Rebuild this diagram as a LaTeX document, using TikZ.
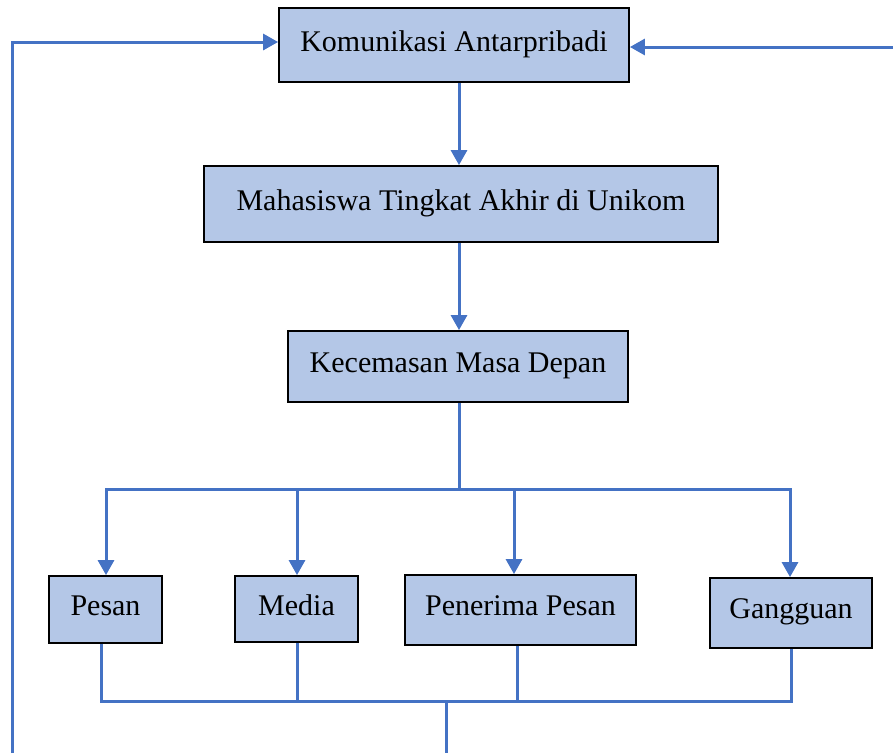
\documentclass[tikz,border=0pt]{standalone}
\usepackage{fontspec}
\setmainfont{Liberation Serif}
\usetikzlibrary{arrows.meta}
\definecolor{boxfill}{HTML}{B4C7E7}
\definecolor{lineblue}{HTML}{4472C4}
\tikzset{
  box/.style={draw=black, line width=1.8pt, fill=boxfill, inner sep=0pt, font=\fontsize{30}{34}\selectfont},
  conn/.style={draw=lineblue, line width=3pt},
  arr/.style={conn, -{Triangle[length=15pt,width=16pt]}}
}
\newcommand{\up}[1]{\raisebox{8pt}{#1}}
\begin{document}
\begin{tikzpicture}[x=1pt,y=-1pt]
\useasboundingbox (0,0) rectangle (893,753);
\node[box, minimum width=350pt, minimum height=74pt] (K) at (454,45) {\up{Komunikasi Antarpribadi}};
\node[box, minimum width=514pt, minimum height=76pt] (M) at (461,204) {\up{Mahasiswa Tingkat Akhir di Unikom}};
\node[box, minimum width=340pt, minimum height=71pt] (C) at (458,366.5) {\up{Kecemasan Masa Depan}};
\node[box, minimum width=113pt, minimum height=67pt] (P) at (105.5,609.5) {\up{Pesan}};
\node[box, minimum width=123pt, minimum height=66pt] (Me) at (296.5,609) {\up{Media}};
\node[box, minimum width=231pt, minimum height=70pt] (PP) at (520.5,610) {\up{Penerima Pesan}};
\node[box, minimum width=162pt, minimum height=70pt] (G) at (791,613) {\up{Gangguan}};

% top loop arrows
\coordinate (LB) at (12,753);
\coordinate (RR) at (893,47);
\draw[arr] (LB) -- (LB |- 0,42) -- (K.west |- 0,42);
\draw[arr] (RR) -- (K.east |- RR);

% main vertical chain
\coordinate (x1) at (459,0);
\draw[arr] (K.south -| x1) -- (M.north -| x1);
\draw[arr] (M.south -| x1) -- (C.north -| x1);

% distribution bus
\coordinate (bus) at (459,489);
\draw[conn] (C.south -| x1) -- (bus);
\draw[arr] (bus) -- (106,489) -- (P.north -| 106,0);
\draw[arr] (297,489) -- (Me.north -| 297,0);
\draw[arr] (514,489) -- (PP.north -| 514,0);
\draw[arr] (bus) -- (790,489) -- (G.north -| 790,0);

% collection bus
\coordinate (cb) at (446,701);
\coordinate (cbot) at (446,753);
\draw[conn] (P.south -| 101,0) -- (101,701) -- (791,701) -- (G.south -| 791,0);
\draw[conn] (Me.south -| 297,0) -- (297,701);
\draw[conn] (PP.south -| 517,0) -- (517,701);
\draw[conn] (cb) -- (cbot);
\end{tikzpicture}
\end{document}
